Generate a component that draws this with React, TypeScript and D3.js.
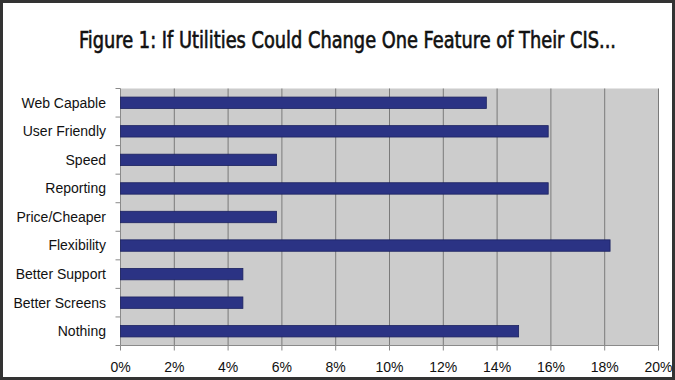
import React from "react";
import * as d3 from "d3";

const categories = [
  "Web Capable",
  "User Friendly",
  "Speed",
  "Reporting",
  "Price/Cheaper",
  "Flexibility",
  "Better Support",
  "Better Screens",
  "Nothing",
];
const values = [13.6, 15.9, 5.8, 15.9, 5.8, 18.2, 4.55, 4.55, 14.8];
const xTicks = [0, 2, 4, 6, 8, 10, 12, 14, 16, 18, 20];
const title = "Figure 1: If Utilities Could Change One Feature of Their CIS...";

export default function App() {
  const W = 675;
  const H = 380;
  const left = 120.5;
  const right = 658.5;
  const top = 88.5;
  const bottom = 345.5;

  const x = d3.scaleLinear().domain([0, 20]).range([left, right]);
  const y = d3
    .scaleBand<string>()
    .domain(categories)
    .range([top, bottom])
    .paddingInner(0.6)
    .paddingOuter(0.3);
  const step = y.step();

  return (
    <svg
      width={W}
      height={H}
      style={{ position: "absolute", left: 0, top: 0 }}
      xmlns="http://www.w3.org/2000/svg"
    >
      <rect x={0} y={0} width={W} height={H} fill="#ffffff" />
      <rect
        x={1.5}
        y={1.5}
        width={W - 3}
        height={H - 3}
        fill="none"
        stroke="#333333"
        strokeWidth={3}
      />
      <g transform="translate(347.5,48) scale(0.86,1)">
        <text
          x={0}
          y={0}
          textAnchor="middle"
          fontFamily="DejaVu Sans Condensed"
          fontWeight="normal"
          fontSize={23}
          fill="#111111"
          stroke="#111111"
          strokeWidth={0.6}
        >
          {title}
        </text>
      </g>
      <rect
        x={left}
        y={top}
        width={right - left}
        height={bottom - top}
        fill="#cccccc"
      />
      {xTicks.slice(1).map((t) => (
        <line
          key={"g" + t}
          x1={x(t)}
          x2={x(t)}
          y1={top}
          y2={bottom}
          stroke="#7a7a7a"
          strokeWidth={1}
        />
      ))}
      {/* axes */}
      <line x1={left} x2={left} y1={top} y2={bottom} stroke="#8a8a8a" />
      <line x1={left} x2={right} y1={bottom} y2={bottom} stroke="#8a8a8a" />
      {xTicks.map((t) => (
        <g key={"t" + t}>
          <line
            x1={x(t)}
            x2={x(t)}
            y1={bottom}
            y2={bottom + 5}
            stroke="#8a8a8a"
          />
          <text
            x={x(t)}
            y={372}
            textAnchor="middle"
            fontFamily="Liberation Sans, Arial, sans-serif"
            fontSize={14}
            fill="#111111"
          >
            {t}%
          </text>
        </g>
      ))}
      {categories.map((c, i) => (
        <line
          key={"yt" + i}
          x1={left - 5}
          x2={left}
          y1={top + i * step}
          y2={top + i * step}
          stroke="#8a8a8a"
        />
      ))}
      <line
        x1={left - 5}
        x2={left}
        y1={bottom}
        y2={bottom}
        stroke="#8a8a8a"
      />
      {categories.map((c, i) => (
        <g key={c}>
          <rect
            x={x(0)}
            y={y(c)!}
            width={x(values[i]) - x(0)}
            height={y.bandwidth()}
            fill="#2b3384"
            stroke="#1c2260"
            strokeWidth={0.8}
          />
          <text
            x={106}
            y={y(c)! + y.bandwidth() / 2}
            dy="0.35em"
            textAnchor="end"
            fontFamily="Liberation Sans, Arial, sans-serif"
            fontSize={14}
            fill="#111111"
          >
            {c}
          </text>
        </g>
      ))}
    </svg>
  );
}
